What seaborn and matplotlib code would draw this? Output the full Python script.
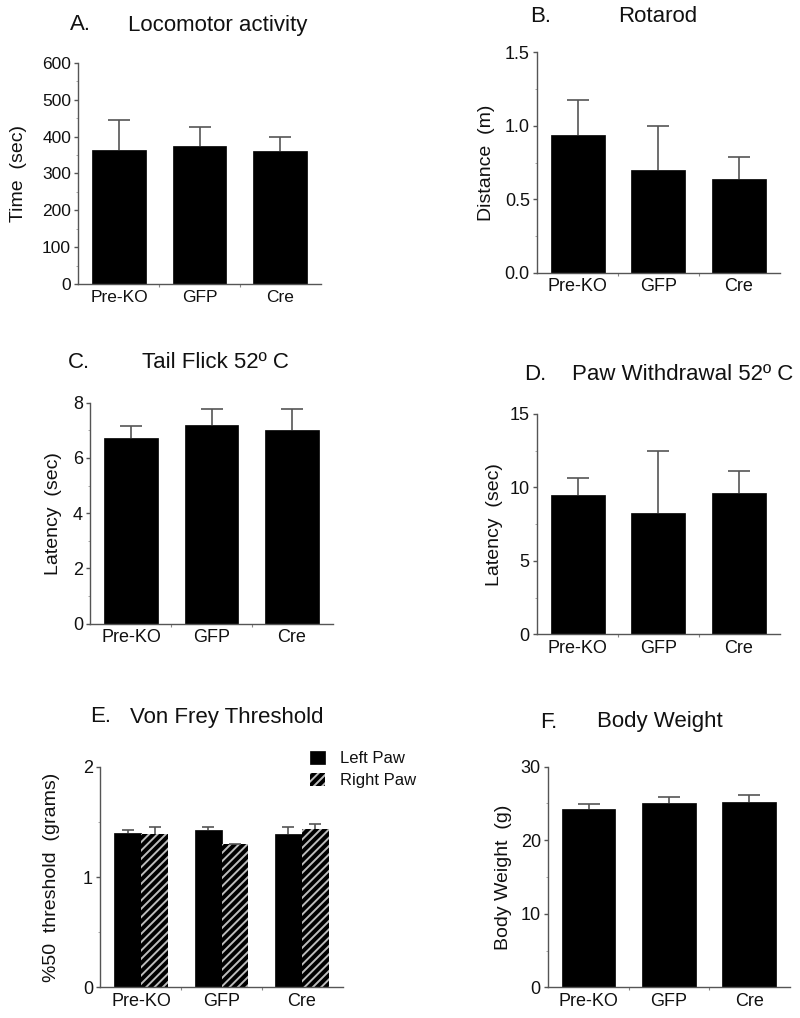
import numpy as np
import pandas as pd
import matplotlib
matplotlib.use("Agg")
import matplotlib.pyplot as plt
import seaborn as sns
from matplotlib.patches import Patch

# ---------------- data ----------------
categories = ["Pre-KO", "GFP", "Cre"]

loco_mean = [364, 376, 361]
loco_sem = [81, 51, 37]

rota_mean = [0.94, 0.70, 0.64]
rota_sem = [0.235, 0.30, 0.145]

tail_mean = [6.73, 7.20, 7.01]
tail_sem = [0.44, 0.59, 0.78]

paw_mean = [9.48, 8.24, 9.64]
paw_sem = [1.16, 4.22, 1.50]

vf_left_mean = [1.40, 1.43, 1.39]
vf_left_sem = [0.03, 0.025, 0.06]
vf_right_mean = [1.39, 1.30, 1.435]
vf_right_sem = [0.06, 0.0, 0.05]
paw_labels = ["Left Paw", "Right Paw"]

bw_mean = [24.3, 25.1, 25.25]
bw_sem = [0.65, 0.78, 0.90]

# ---------------- style ----------------
sns.set_style("ticks")
plt.rcParams["font.family"] = ["Liberation Sans", "DejaVu Sans"]
plt.rcParams["hatch.linewidth"] = 1.4
plt.rcParams["text.color"] = "#111111"
plt.rcParams["axes.labelcolor"] = "#111111"
plt.rcParams["xtick.labelcolor"] = "#111111"
plt.rcParams["ytick.labelcolor"] = "#111111"

W, H = 800, 1018
fig = plt.figure(figsize=(W / 100, H / 100), dpi=100)
AX_COL = "#555555"


def add_ax(l, t, r, b):
    return fig.add_axes([l / W, 1 - b / H, (r - l) / W, (b - t) / H])


def style(ax, ymax, step, ylabel, labx, xls=13, yls=13):
    ax.set_xlim(-0.51, 2.51)
    ax.set_ylim(0, ymax)
    ax.set_yticks(np.arange(0, ymax + step / 2, step))
    ax.set_yticks(np.arange(step / 2, ymax, step), minor=True)
    sns.despine(ax=ax)
    for s in ["left", "bottom"]:
        ax.spines[s].set_color(AX_COL)
        ax.spines[s].set_linewidth(1)
    ax.tick_params(axis="y", which="major", length=3, width=1, color=AX_COL,
                   labelsize=yls, pad=2, labelcolor="#111111")
    ax.tick_params(axis="y", which="minor", length=1.5, width=0.6, color="#999999")
    ax.set_xticks([0.5, 1.5], minor=True)
    ax.tick_params(axis="x", which="major", length=0, labelsize=xls, pad=4,
                   labelcolor="#111111")
    ax.tick_params(axis="x", which="minor", length=2, width=0.8, color="#888888")
    ax.set_xlabel("")
    ax.set_ylabel(ylabel, fontsize=14, color="#111111")
    ax.yaxis.set_label_coords(labx, 0.5)


def add_err(ax, container, means, errs, capsize):
    xs = [p.get_x() + p.get_width() / 2 for p in container]
    _, caps, _ = ax.errorbar(xs, means, yerr=[np.zeros(len(means)), errs],
                             fmt="none", ecolor=AX_COL, elinewidth=1.2,
                             capsize=capsize, capthick=1.2, zorder=1)
    # keep only the upper cap
    if len(caps) == 2:
        caps[0].set_visible(False)


def simple_panel(box, means, errs, ymax, step, ylabel, labx, xls=13, yls=13):
    ax = add_ax(*box)
    sns.barplot(x=categories, y=means, color="black", saturation=1,
                width=0.67, errorbar=None, edgecolor="black", linewidth=0.5,
                ax=ax)
    add_err(ax, ax.containers[0], means, errs, 8)
    style(ax, ymax, step, ylabel, labx, xls, yls)
    return ax


def title(x_letter, x_text, y, letter, text):
    fig.text(x_letter / W, 1 - y / H, letter, fontsize=16, va="center", ha="left")
    fig.text(x_text / W, 1 - y / H, text, fontsize=16, va="center", ha="left")


# A
simple_panel((78, 63, 321, 284), loco_mean, loco_sem, 600, 100,
             "Time  (sec)", -0.21, xls=12.5, yls=12.5)
title(70, 128, 25, "A.", "Locomotor activity")

# B
simple_panel((536.7, 52.3, 780, 272.7), rota_mean, rota_sem, 1.5, 0.5,
             "Distance  (m)", -0.171)
title(530, 618, 17, "B.", "Rotarod")

# C
simple_panel((90, 402.7, 333, 623.7), tail_mean, tail_sem, 8, 2,
             "Latency  (sec)", -0.115)
title(68, 142, 363, "C.", "Tail Flick 52º C")

# D
simple_panel((536.7, 414, 780, 634.3), paw_mean, paw_sem, 15, 5,
             "Latency  (sec)", -0.138)
title(524, 572, 375, "D.", "Paw Withdrawal 52º C")

# E
axE = add_ax(100, 766.7, 343, 987.3)
df = pd.DataFrame({
    "group": categories * 2,
    "value": vf_left_mean + vf_right_mean,
    "paw": [paw_labels[0]] * 3 + [paw_labels[1]] * 3,
})
sns.barplot(data=df, x="group", y="value", hue="paw",
            palette=["black", "black"], saturation=1, width=0.67,
            errorbar=None, legend=False, ax=axE)
for p in axE.containers[0]:
    p.set_edgecolor("black")
    p.set_linewidth(0.5)
for p in axE.containers[1]:
    p.set_hatch("////")
    p.set_edgecolor("#bdbdbd")
    p.set_linewidth(0)
add_err(axE, axE.containers[0], vf_left_mean, vf_left_sem, 4.5)
add_err(axE, axE.containers[1], vf_right_mean, vf_right_sem, 4.5)
style(axE, 2, 1, "%50  threshold  (grams)", -0.165)
handles = [Patch(facecolor="black", edgecolor="black", linewidth=0.5),
           Patch(facecolor="black", edgecolor="#bdbdbd", hatch="////", linewidth=0)]
fig.legend(handles, paw_labels, loc="upper left",
           bbox_to_anchor=(310 / W, 1 - 751 / H), frameon=False, fontsize=12,
           handlelength=0.9, handleheight=0.85, handletextpad=0.9,
           labelspacing=0.38, borderpad=0, borderaxespad=0)
title(90, 130, 717, "E.", "Von Frey Threshold")

# F
simple_panel((547.7, 766.7, 790, 987.3), bw_mean, bw_sem, 30, 10,
             "Body Weight  (g)", -0.147)
title(540, 597, 722, "F.", "Body Weight")

fig.savefig("out.png", dpi=100, facecolor="white")
